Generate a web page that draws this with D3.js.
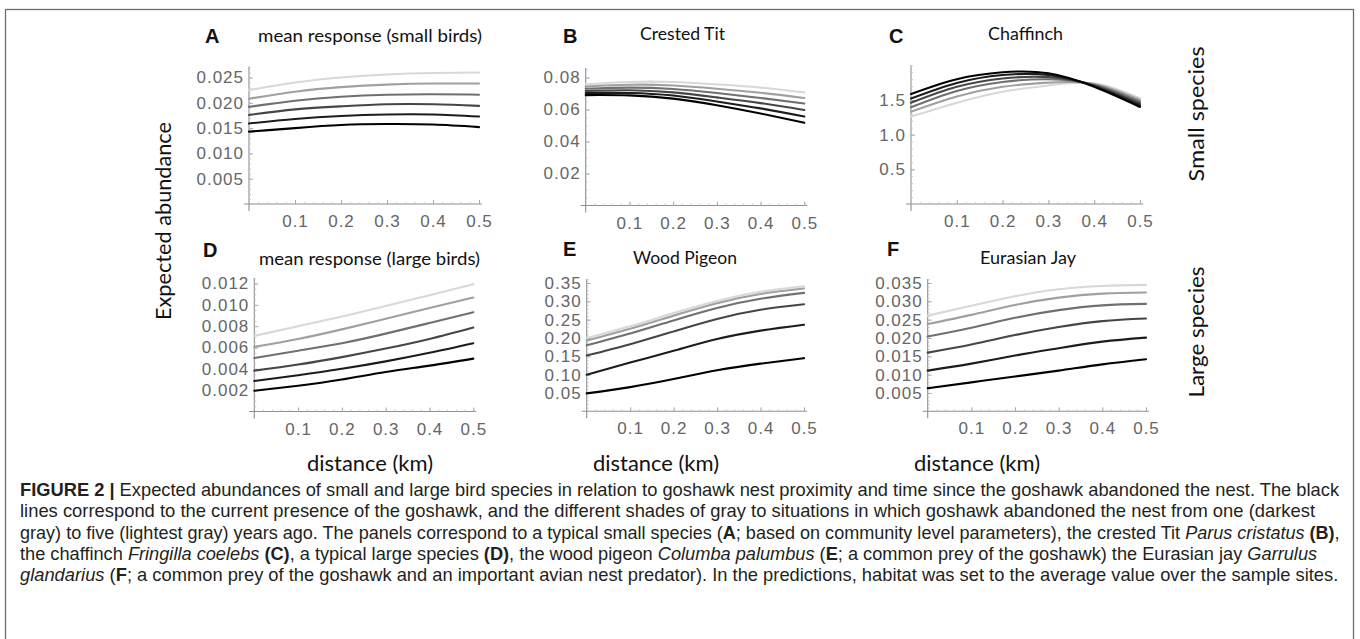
<!DOCTYPE html>
<html><head><meta charset="utf-8">
<script src="https://cdn.jsdelivr.net/npm/d3@7"></script>
<style>
body{margin:0;background:#fff;}
svg{display:block;}
</style>
</head><body>
<svg id="chart" width="1360" height="639"></svg>
<script>
// ---------------- DATA ----------------
const distanceKm = [0, 0.1, 0.2, 0.3, 0.4, 0.5];
const xTickValues = [0.1, 0.2, 0.3, 0.4, 0.5];
// rows: current presence (black), then 1..5 years since abandonment (dark -> light gray)
const yearsSinceAbandon = ["present", "1 year", "2 years", "3 years", "4 years", "5 years"];
const shadeColors = ["#000000", "#1c1c1c", "#464646", "#707070", "#a0a0a0", "#d8d8d8"];

const smallMean = [
  [0.0143, 0.0150, 0.0156, 0.0158, 0.0157, 0.0152],
  [0.0159, 0.0168, 0.0174, 0.0177, 0.0177, 0.0173],
  [0.0176, 0.0187, 0.0193, 0.0197, 0.0197, 0.0194],
  [0.0192, 0.0204, 0.0212, 0.0216, 0.0217, 0.0216],
  [0.0208, 0.0222, 0.0231, 0.0236, 0.0238, 0.0238],
  [0.0225, 0.0240, 0.0250, 0.0256, 0.0259, 0.0260]
];
const crestedTit = [
  [0.0690, 0.0688, 0.0668, 0.0627, 0.0575, 0.0517],
  [0.0703, 0.0703, 0.0687, 0.0650, 0.0607, 0.0556],
  [0.0716, 0.0720, 0.0707, 0.0676, 0.0640, 0.0597],
  [0.0730, 0.0737, 0.0728, 0.0703, 0.0672, 0.0637],
  [0.0744, 0.0755, 0.0750, 0.0730, 0.0705, 0.0672],
  [0.0758, 0.0772, 0.0772, 0.0757, 0.0737, 0.0707]
];
const chaffinch = [
  [1.587, 1.80, 1.90, 1.885, 1.69, 1.40],
  [1.52, 1.745, 1.86, 1.86, 1.70, 1.425],
  [1.46, 1.69, 1.81, 1.83, 1.71, 1.45],
  [1.395, 1.63, 1.76, 1.80, 1.72, 1.475],
  [1.33, 1.55, 1.69, 1.75, 1.73, 1.50],
  [1.26, 1.46, 1.62, 1.71, 1.74, 1.525]
];
const largeMean = [
  [0.00195, 0.00242, 0.00300, 0.00370, 0.00430, 0.00496],
  [0.00286, 0.00340, 0.00400, 0.00470, 0.00550, 0.00640],
  [0.00383, 0.00440, 0.00510, 0.00590, 0.00680, 0.00787],
  [0.00502, 0.00570, 0.00640, 0.00730, 0.00830, 0.00931],
  [0.00606, 0.00680, 0.00770, 0.00870, 0.00970, 0.01069],
  [0.00709, 0.00800, 0.00890, 0.00990, 0.01090, 0.01194]
];
const woodPigeon = [
  [0.049, 0.066, 0.088, 0.112, 0.130, 0.145],
  [0.100, 0.133, 0.165, 0.197, 0.220, 0.236],
  [0.152, 0.183, 0.218, 0.252, 0.277, 0.292],
  [0.180, 0.212, 0.248, 0.282, 0.307, 0.323],
  [0.193, 0.225, 0.261, 0.295, 0.320, 0.335],
  [0.200, 0.232, 0.268, 0.301, 0.326, 0.341]
];
const eurasianJay = [
  [0.0063, 0.0079, 0.0095, 0.0111, 0.0128, 0.0142],
  [0.0111, 0.0130, 0.0152, 0.0172, 0.0190, 0.0201],
  [0.0160, 0.0182, 0.0208, 0.0230, 0.0246, 0.0253],
  [0.0204, 0.0228, 0.0255, 0.0276, 0.0289, 0.0293],
  [0.0238, 0.0263, 0.0290, 0.0310, 0.0321, 0.0324],
  [0.0261, 0.0288, 0.0314, 0.0333, 0.0342, 0.0345]
];

const ticksSmallMean = [0.005, 0.010, 0.015, 0.020, 0.025];
const ticksCrestedTit = [0.02, 0.04, 0.06, 0.08];
const ticksChaffinch = [0.5, 1.0, 1.5];
const ticksLargeMean = [0.002, 0.004, 0.006, 0.008, 0.010, 0.012];
const ticksWoodPigeon = [0.05, 0.10, 0.15, 0.20, 0.25, 0.30, 0.35];
const ticksJay = [0.005, 0.010, 0.015, 0.020, 0.025, 0.030, 0.035];

const panelLetters = ["A", "B", "C", "D", "E", "F"];
const panelTitles = ["mean response (small birds)", "Crested Tit", "Chaffinch",
  "mean response (large birds)", "Wood Pigeon", "Eurasian Jay"];

// ---------------- LAYOUT ----------------
const layout = [
  {data: smallMean, ticks: ticksSmallMean, fmt: ".3f", minor: 0.001, x0: 249, x1: 479, y0: 204, yRef: 0.025, yRefPx: 77.5, yTop: 66.5, lx: 205, ly: 43, tx: 258, ty: 42, tw: 224},
  {data: crestedTit, ticks: ticksCrestedTit, fmt: ".2f", minor: 0.005, x0: 585.7, x1: 804.3, y0: 205.5, yRef: 0.08, yRefPx: 77.5, yTop: 68, lx: 563, ly: 43, tx: 640, ty: 40, tw: 85},
  {data: chaffinch, ticks: ticksChaffinch, fmt: ".1f", minor: 0.1, x0: 911, x1: 1140, y0: 204, yRef: 1.5, yRefPx: 100, yTop: 65, lx: 889, ly: 43, tx: 988, ty: 40, tw: 75},
  {data: largeMean, ticks: ticksLargeMean, fmt: ".3f", minor: 0.0005, x0: 254.3, x1: 473.3, y0: 411.5, yRef: 0.012, yRefPx: 283.5, yTop: 278, lx: 203, ly: 257, tx: 259, ty: 265, tw: 221},
  {data: woodPigeon, ticks: ticksWoodPigeon, fmt: ".2f", minor: 0.01, x0: 586.7, x1: 804, y0: 411.3, yRef: 0.35, yRefPx: 283, yTop: 279, lx: 563, ly: 256, tx: 633, ty: 264, tw: 104},
  {data: eurasianJay, ticks: ticksJay, fmt: ".3f", minor: 0.001, x0: 927.7, x1: 1146, y0: 411.3, yRef: 0.035, yRefPx: 283, yTop: 279, lx: 887, ly: 256, tx: 980, ty: 264, tw: 96}
];

const svg = d3.select("#chart");
const tickFont = "'Liberation Sans', Arial, sans-serif";
const labelFont = "Lato, 'Open Sans', sans-serif";

// frame
svg.append("rect").attr("x", 5.5).attr("y", 9.5).attr("width", 1348).attr("height", 640)
  .attr("fill", "none").attr("stroke", "#6d6d6d").attr("stroke-width", 1.3);

layout.forEach((p, i) => {
  const x = d3.scaleLinear().domain([0, 0.5]).range([p.x0, p.x1]);
  const y = d3.scaleLinear().domain([0, p.yRef]).range([p.y0, p.yRefPx]);
  const g = svg.append("g");

  g.append("line").attr("x1", p.x0 - 5).attr("x2", p.x1 + 3).attr("y1", p.y0).attr("y2", p.y0)
    .attr("stroke", "#8f8f8f").attr("stroke-width", 1.1);
  g.append("line").attr("x1", p.x0).attr("x2", p.x0).attr("y1", p.y0 + 7).attr("y2", p.yTop)
    .attr("stroke", "#8f8f8f").attr("stroke-width", 1.1);

  const yMax = y.invert(p.yTop);
  const minorY = d3.range(p.minor, yMax, p.minor);
  const minorX = d3.range(0.02, 0.501, 0.02);
  const gxm = g.append("g").attr("transform", `translate(0,${p.y0})`)
    .call(d3.axisBottom(x).tickValues(minorX).tickSizeInner(-2).tickSizeOuter(0).tickFormat(""));
  const gym = g.append("g").attr("transform", `translate(${p.x0},0)`)
    .call(d3.axisLeft(y).tickValues(minorY).tickSizeInner(-2).tickSizeOuter(0).tickFormat(""));
  [gxm, gym].forEach(a => { a.select(".domain").remove(); a.selectAll("line").attr("stroke", "#c8c8c8"); });

  const gx = g.append("g").attr("transform", `translate(0,${p.y0})`)
    .call(d3.axisBottom(x).tickValues(xTickValues).tickSizeInner(-4).tickSizeOuter(0).tickPadding(11).tickFormat(d3.format(".1f")));
  const gy = g.append("g").attr("transform", `translate(${p.x0},0)`)
    .call(d3.axisLeft(y).tickValues(p.ticks).tickSizeInner(-4).tickSizeOuter(0).tickPadding(5).tickFormat(d3.format(p.fmt)));
  [gx, gy].forEach(a => {
    a.select(".domain").remove();
    a.selectAll("line").attr("stroke", "#a8a8a8");
    a.selectAll("text").attr("fill", "#666").attr("font-family", tickFont)
      .attr("font-size", 17).attr("letter-spacing", "1px");
  });

  const line = d3.line().x((d, j) => x(distanceKm[j])).y(d => y(d)).curve(d3.curveNatural);
  const order = d3.range(p.data.length).reverse();
  g.selectAll("path.series").data(order).join("path")
    .attr("class", "series")
    .attr("d", k => line(p.data[k]))
    .attr("fill", "none")
    .attr("stroke", k => shadeColors[k])
    .attr("stroke-width", 2.1)
    .attr("stroke-linecap", "round");

  g.append("text").attr("x", p.lx).attr("y", p.ly).text(panelLetters[i])
    .attr("font-family", tickFont).attr("font-weight", "bold").attr("font-size", 20).attr("fill", "#111");
  g.append("text").attr("x", p.tx).attr("y", p.ty).text(panelTitles[i])
    .attr("font-family", labelFont).attr("font-size", 16.5).attr("fill", "#111")
    .attr("textLength", p.tw).attr("lengthAdjust", "spacingAndGlyphs");
});

svg.append("text").attr("transform", "translate(171,221) rotate(-90)").attr("text-anchor", "middle")
  .text("Expected abundance").attr("font-family", labelFont).attr("font-size", 22).attr("fill", "#111")
  .attr("textLength", 198).attr("lengthAdjust", "spacingAndGlyphs");
svg.append("text").attr("transform", "translate(1204,114) rotate(-90)").attr("text-anchor", "middle")
  .text("Small species").attr("font-family", labelFont).attr("font-size", 22).attr("fill", "#111")
  .attr("textLength", 135).attr("lengthAdjust", "spacingAndGlyphs");
svg.append("text").attr("transform", "translate(1204,332) rotate(-90)").attr("text-anchor", "middle")
  .text("Large species").attr("font-family", labelFont).attr("font-size", 22).attr("fill", "#111")
  .attr("textLength", 131).attr("lengthAdjust", "spacingAndGlyphs");
[370, 656, 977].forEach(cx => {
  svg.append("text").attr("x", cx).attr("y", 471).attr("text-anchor", "middle")
    .text("distance (km)").attr("font-family", labelFont).attr("font-size", 22).attr("fill", "#111")
    .attr("textLength", 126).attr("lengthAdjust", "spacingAndGlyphs");
});

// caption
const captionLines = [
  [["FIGURE 2 | ", "b"], ["Expected abundances of small and large bird species in relation to goshawk nest proximity and time since the goshawk abandoned the nest. The black", ""]],
  [["lines correspond to the current presence of the goshawk, and the different shades of gray to situations in which goshawk abandoned the nest from one (darkest", ""]],
  [["gray) to five (lightest gray) years ago. The panels correspond to a typical small species (", ""], ["A", "b"], ["; based on community level parameters), the crested Tit ", ""], ["Parus cristatus", "i"], [" ", ""], ["(B)", "b"], [",", ""]],
  [["the chaffinch ", ""], ["Fringilla coelebs", "i"], [" ", ""], ["(C)", "b"], [", a typical large species ", ""], ["(D)", "b"], [", the wood pigeon ", ""], ["Columba palumbus", "i"], [" (", ""], ["E", "b"], ["; a common prey of the goshawk) the Eurasian jay ", ""], ["Garrulus", "i"]],
  [["glandarius", "i"], [" (", ""], ["F", "b"], ["; a common prey of the goshawk and an important avian nest predator). In the predictions, habitat was set to the average value over the sample sites.", ""]]
];
const captionWidths = [1320, 1296, 1321, 1298, 1319];
captionLines.forEach((parts, li) => {
  const g = svg.append("g");
  const t = g.append("text").attr("x", 0).attr("y", 0)
    .attr("font-family", tickFont).attr("font-size", 17.5).attr("fill", "#231f20");
  parts.forEach(([s, st]) => {
    const ts = t.append("tspan").text(s);
    if (st === "b") ts.attr("font-weight", "bold");
    if (st === "i") ts.attr("font-style", "italic");
  });
  const w = t.node().getComputedTextLength();
  const k = captionWidths[li] / w;
  g.attr("transform", `translate(20,${496 + li * 21.3}) scale(${k},1)`);
});
</script>
</body></html>
